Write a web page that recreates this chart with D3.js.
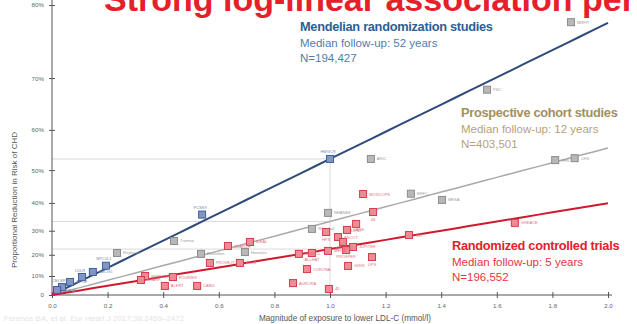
<!DOCTYPE html>
<html>
<head>
<meta charset="utf-8">
<script src="https://cdn.jsdelivr.net/npm/d3@7"></script>
<style>
  html, body { margin: 0; padding: 0; background: #ffffff; }
  svg { display: block; font-family: "Liberation Sans", Arial, sans-serif; }
</style>
</head>
<body>
<svg id="chart" width="637" height="324"></svg>
<script>
// Axis ticks
const xTicks = [0, 0.2, 0.4, 0.6, 0.8, 1.0, 1.2, 1.4, 1.6, 1.8, 2.0];
const yTicks = [0, 0.1, 0.2, 0.3, 0.4, 0.5, 0.6, 0.7, 0.8];

// Study types and their summary (proportional reduction per 1 mmol/l lower LDL-C)
const studyTypes = ["Mendelian randomization studies", "Prospective cohort studies", "Randomized controlled trials"];
const followUp = ["Median follow-up: 52 years", "Median follow-up: 12 years", "Median follow-up: 5 years"];
const participants = ["N=194,427", "N=403,501", "N=196,552"];
const reductionPerUnit = [0.53, 0.335, 0.225];

// Mendelian randomization estimates
const mrExposure  = [1.0, 0.54, 0.194, 0.147, 0.108, 0.065, 0.036, 0.018];
const mrReduction = [0.53, 0.36, 0.15, 0.12, 0.095, 0.07, 0.043, 0.027];
const mrLabels    = ["HMGCR", "PCSK9", "NPC1L1", "ABCG5", "LDLR", "APOE", "CELSR2", "HNF1A"];

// Prospective cohort estimates
const cohortExposure  = [1.867, 1.565, 1.147, 1.81, 1.88, 1.403, 1.291, 0.993, 0.935, 0.694, 0.536, 0.439, 0.234];
const cohortReduction = [0.78, 0.68, 0.53, 0.527, 0.532, 0.41, 0.43, 0.366, 0.307, 0.212, 0.204, 0.259, 0.208];
const cohortLabels    = ["MRFIT", "PSC", "ARIC", "FHS", "CHS", "MESA", "ERFC", "NHANES", "Whitehall", "Honolulu", "Busselton", "Tromsø", "Reykjavik"];

// Randomized controlled trial estimates
const rctExposure  = [1.119, 1.155, 1.665, 1.094, 1.061, 0.986, 1.029, 1.047, 1.083, 1.058, 0.993, 0.935, 0.888, 1.151,
                      1.284, 0.712, 0.633, 0.568, 0.676, 0.917, 1.065, 0.867, 0.996, 0.335, 0.32, 0.435, 0.406, 0.522];
const rctReduction = [0.429, 0.369, 0.33, 0.326, 0.303, 0.295, 0.275, 0.255, 0.234, 0.221, 0.217, 0.208, 0.204, 0.19,
                      0.283, 0.255, 0.238, 0.163, 0.163, 0.134, 0.149, 0.064, 0.033, 0.10, 0.08, 0.095, 0.049, 0.049];
const rctLabels    = ["WOSCOPS", "4S", "GREACE", "LIPID", "CARE", "HPS", "ASCOT", "AFCAPS", "JUPITER", "PROSPER", "MEGA", "ALLHAT", "SPARCL", "LIPS",
                      "TNT", "IDEAL", "SEARCH", "PROVE-IT", "A to Z", "CORONA", "GISSI", "AURORA", "4D", "IMPROVE", "SHARP", "FOURIER", "ALERT", "CABG"];

const svg = d3.select("#chart");

// Scales: risk reduction is plotted on a log scale of remaining risk (1 - reduction)
const x = d3.scaleLinear().domain([0, 2]).range([52, 608]);
const yLog = d3.scaleLog().domain([1, 0.2]).range([295, 5]);
const y = p => yLog(1 - p);

// Heading running off the top edge
svg.append("text")
  .attr("x", 104).attr("y", 11)
  .attr("fill", "#e5202b")
  .attr("font-size", 34).attr("font-weight", "bold")
  .text("Strong log-linear association per unit lower LDL-C");

// Reference guides at 1 mmol/l
const guide = svg.append("g").attr("stroke", "#cfcfcf").attr("stroke-width", 0.8).attr("fill", "none");
reductionPerUnit.forEach(r => {
  guide.append("line").attr("x1", x(0)).attr("x2", x(1)).attr("y1", y(r)).attr("y2", y(r));
});
guide.append("line").attr("x1", x(1)).attr("x2", x(1)).attr("y1", y(0)).attr("y2", y(reductionPerUnit[0]));

// Axes
const axisColor = "#555";
const gx = svg.append("g").attr("transform", `translate(0,${y(0)})`)
  .call(d3.axisBottom(x).tickValues(xTicks).tickFormat(d3.format(".1f")).tickSize(3).tickPadding(6));
gx.select(".domain").attr("stroke", axisColor).attr("d", `M${x(0)},0H${x(2) + 4}`);
gx.selectAll(".tick line").attr("stroke", axisColor).attr("y1", -3).attr("y2", 3);
gx.selectAll(".tick text").attr("fill", "#666").attr("font-size", 6.2).attr("font-family", "Liberation Sans, Arial, sans-serif");

const gy = svg.append("g").attr("transform", `translate(${x(0)},0)`)
  .call(d3.axisLeft(yLog).tickValues(yTicks.map(p => 1 - p))
    .tickFormat(v => { const p = Math.round((1 - v) * 100); return p === 0 ? "0" : p + "%"; })
    .tickSize(3).tickPadding(5));
gy.select(".domain").attr("stroke", axisColor).attr("d", `M0,0V${y(0)}`);
gy.selectAll(".tick line").attr("stroke", axisColor).attr("x1", -3).attr("x2", 3);
gy.selectAll(".tick text").attr("fill", "#666").attr("font-size", 6.2).attr("font-family", "Liberation Sans, Arial, sans-serif");

// Axis titles
svg.append("text")
  .attr("transform", "translate(17,200) rotate(-90)")
  .attr("text-anchor", "middle").attr("fill", "#555").attr("font-size", 8)
  .text("Proportional Reduction in Risk of CHD");
svg.append("text")
  .attr("x", 345).attr("y", 321)
  .attr("text-anchor", "middle").attr("fill", "#555").attr("font-size", 8.2)
  .text("Magnitude of exposure to lower LDL-C (mmol/l)");
svg.append("text")
  .attr("x", 4).attr("y", 321)
  .attr("fill", "#e4e4e4").attr("font-size", 8)
  .text("Ference BA, et al. Eur Heart J 2017;38:2459–2472");

// Fitted log-linear lines for each study type
const lineColors = ["#2e4a7a", "#a9a9a9", "#d0192e"];
const lineWidths = [2, 1.5, 2];
const lineGen = d3.line().x(d => x(d[0])).y(d => yLog(d[1]));
reductionPerUnit.forEach((r, i) => {
  const pts = d3.range(0, 2.0001, 0.05).map(e => [e, Math.pow(1 - r, e)]);
  svg.append("path").datum(pts)
    .attr("d", lineGen).attr("fill", "none")
    .attr("stroke", lineColors[i]).attr("stroke-width", lineWidths[i]);
});

// Study markers with small labels; placement alternates to keep neighbours apart
const placeRight = (px, py) => ({ x: px + 6, y: py + 1.5, anchor: "start" });
const placeBelow = (px, py) => ({ x: px, y: py + 8.5, anchor: "middle" });
const placeAbove = (px, py) => ({ x: px - 2, y: py - 5.5, anchor: "middle" });

function drawStudies(ex, red, labels, fill, stroke, labelColor, placeFor) {
  const data = ex.map((e, i) => {
    const px = x(e), py = y(red[i]);
    return { px, py, label: labels[i], pos: placeFor(i)(px, py) };
  });
  const g = svg.append("g");
  g.selectAll("rect").data(data).join("rect")
    .attr("x", d => d.px - 3.5).attr("y", d => d.py - 3.5)
    .attr("width", 7).attr("height", 7)
    .attr("fill", fill).attr("stroke", stroke).attr("stroke-width", 1);
  g.selectAll("text").data(data).join("text")
    .attr("x", d => d.pos.x).attr("y", d => d.pos.y)
    .attr("text-anchor", d => d.pos.anchor)
    .attr("fill", labelColor).attr("font-size", 4)
    .text(d => d.label);
}
drawStudies(cohortExposure, cohortReduction, cohortLabels, "#b8b8b8", "#8c8c8c", "#9a9a9a", () => placeRight);
drawStudies(rctExposure, rctReduction, rctLabels, "#ec8c96", "#d63a4c", "#e0707c",
  i => (i % 2 === 1 && i < 14 ? placeBelow : placeRight));
drawStudies(mrExposure, mrReduction, mrLabels, "#8097c4", "#3f5f95", "#6f86b0",
  i => (i < 2 || i % 2 === 0 ? placeAbove : placeRight));

// Study type annotations
const anno = [
  { x: 300, y: 31, title: "#2c5f93", sub: "#4f7db0" },
  { x: 461, y: 117, title: "#a38f5c", sub: "#b5a277" },
  { x: 452, y: 250, title: "#e3202c", sub: "#e8343e" }
];
anno.forEach((a, i) => {
  svg.append("text").attr("x", a.x).attr("y", a.y)
    .attr("fill", a.title).attr("font-size", 12.8).attr("font-weight", "bold")
    .attr("letter-spacing", -0.3)
    .text(studyTypes[i]);
  svg.append("text").attr("x", a.x).attr("y", a.y + 16)
    .attr("fill", a.sub).attr("font-size", 11.5)
    .text(followUp[i]);
  svg.append("text").attr("x", a.x).attr("y", a.y + 31)
    .attr("fill", a.sub).attr("font-size", 11.5)
    .text(participants[i]);
});
</script>
</body>
</html>
